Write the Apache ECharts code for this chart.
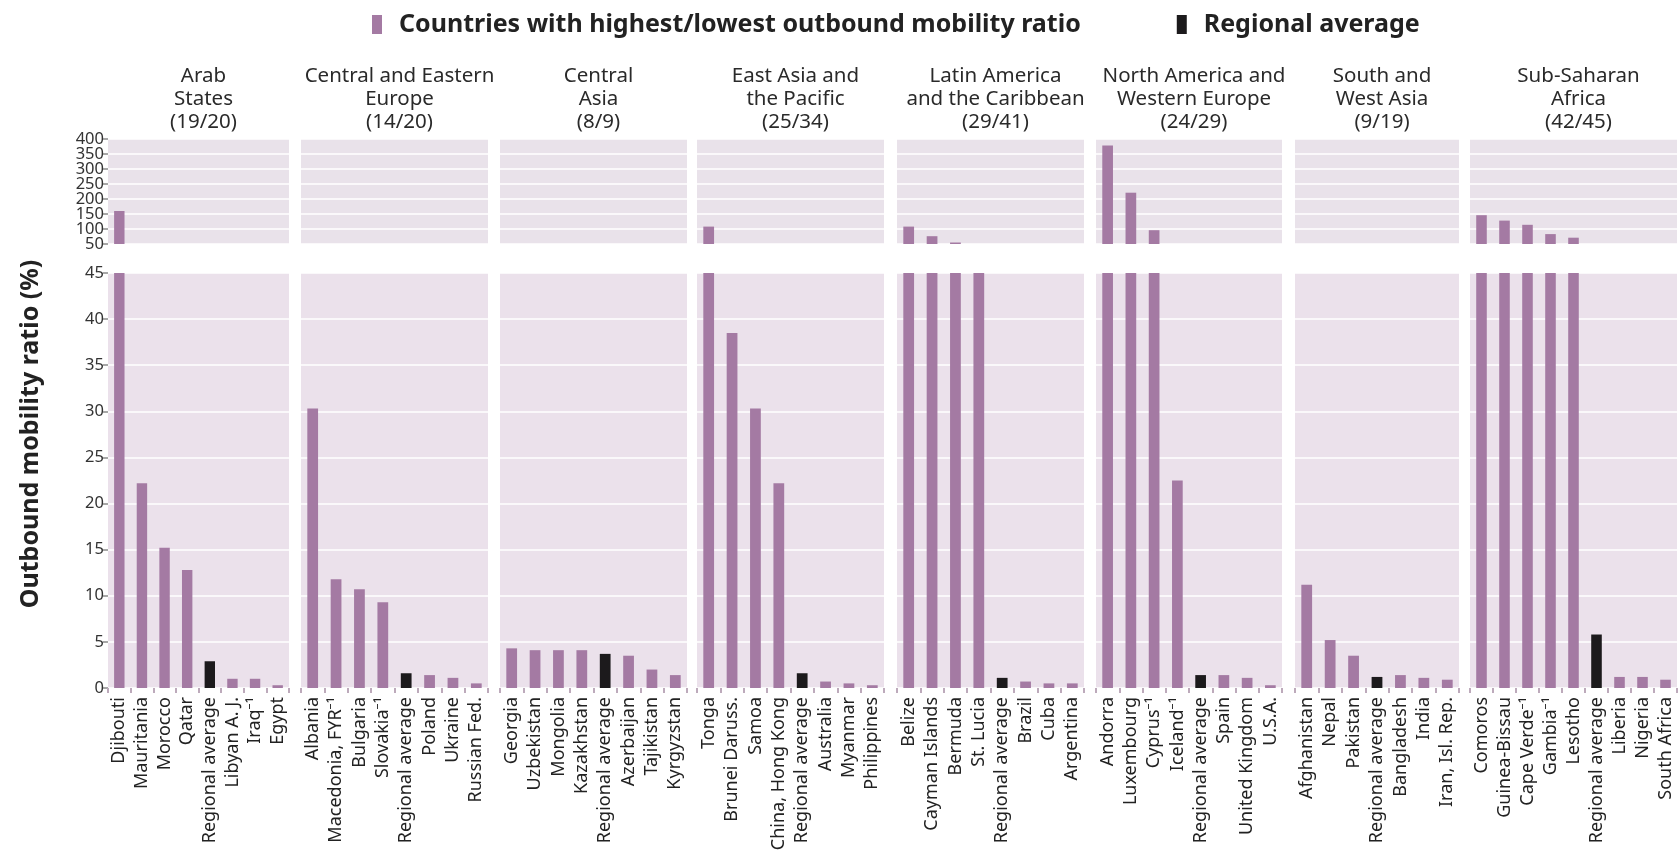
<!DOCTYPE html>
<html>
<head>
<meta charset="utf-8">
<script src="https://cdn.jsdelivr.net/npm/echarts@6/dist/echarts.min.js"></script>
<style>
  html, body { margin: 0; padding: 0; background: #ffffff; }
  #chart { width: 1678px; height: 850px; }
</style>
</head>
<body>
<div id="chart"></div>
<script>
// ---- Data: outbound mobility ratio (%) by region ----
const AVG = 'Regional average';

const arabStatesNames  = ['Djibouti', 'Mauritania', 'Morocco', 'Qatar', AVG, 'Libyan A. J.', 'Iraq⁻¹', 'Egypt'];
const arabStatesValues = [160, 22.2, 15.2, 12.8, 2.9, 1.0, 1.0, 0.3];

const ceeNames  = ['Albania', 'Macedonia, FYR⁻¹', 'Bulgaria', 'Slovakia⁻¹', AVG, 'Poland', 'Ukraine', 'Russian Fed.'];
const ceeValues = [30.3, 11.8, 10.7, 9.3, 1.6, 1.4, 1.1, 0.5];

const centralAsiaNames  = ['Georgia', 'Uzbekistan', 'Mongolia', 'Kazakhstan', AVG, 'Azerbaijan', 'Tajikistan', 'Kyrgyzstan'];
const centralAsiaValues = [4.3, 4.1, 4.1, 4.1, 3.7, 3.5, 2.0, 1.4];

const eastAsiaNames  = ['Tonga', 'Brunei Daruss.', 'Samoa', 'China, Hong Kong', AVG, 'Australia', 'Myanmar', 'Philippines'];
const eastAsiaValues = [108, 38.5, 30.3, 22.2, 1.6, 0.7, 0.5, 0.3];

const latinAmericaNames  = ['Belize', 'Cayman Islands', 'Bermuda', 'St. Lucia', AVG, 'Brazil', 'Cuba', 'Argentina'];
const latinAmericaValues = [108, 76, 55, 47, 1.1, 0.7, 0.5, 0.5];

const naweNames  = ['Andorra', 'Luxembourg', 'Cyprus⁻¹', 'Iceland⁻¹', AVG, 'Spain', 'United Kingdom', 'U.S.A.'];
const naweValues = [378, 221, 96, 22.5, 1.4, 1.4, 1.1, 0.3];

const southWestAsiaNames  = ['Afghanistan', 'Nepal', 'Pakistan', AVG, 'Bangladesh', 'India', 'Iran, Isl. Rep.'];
const southWestAsiaValues = [11.2, 5.2, 3.5, 1.2, 1.4, 1.1, 0.9];

const subSaharanNames  = ['Comoros', 'Guinea-Bissau', 'Cape Verde⁻¹', 'Gambia⁻¹', 'Lesotho', AVG, 'Liberia', 'Nigeria', 'South Africa'];
const subSaharanValues = [146, 128, 114, 83, 71, 5.8, 1.2, 1.2, 0.9];

const regionTitles = [
  'Arab\nStates\n(19/20)',
  'Central and Eastern\nEurope\n(14/20)',
  'Central\nAsia\n(8/9)',
  'East Asia and\nthe Pacific\n(25/34)',
  'Latin America\nand the Caribbean\n(29/41)',
  'North America and\nWestern Europe\n(24/29)',
  'South and\nWest Asia\n(9/19)',
  'Sub-Saharan\nAfrica\n(42/45)'
];

// Tick values of the broken value scale: upper part (50–400) and lower part (0–45)
const upperTickValues = [50, 100, 150, 200, 250, 300, 350, 400];
const lowerTickValues = [0, 5, 10, 15, 20, 25, 30, 35, 40, 45];

const SERIES_COUNTRIES = 'Countries with highest/lowest outbound mobility ratio';
const SERIES_AVERAGE = 'Regional average';
const yAxisTitle = 'Outbound mobility ratio (%)';

// ---- Layout ----
const regions = [
  [arabStatesNames, arabStatesValues],
  [ceeNames, ceeValues],
  [centralAsiaNames, centralAsiaValues],
  [eastAsiaNames, eastAsiaValues],
  [latinAmericaNames, latinAmericaValues],
  [naweNames, naweValues],
  [southWestAsiaNames, southWestAsiaValues],
  [subSaharanNames, subSaharanValues]
];
const panelLeft  = [108, 301, 500, 697, 897, 1096, 1295, 1470];
const panelRight = [289, 488, 687, 884, 1084, 1282, 1459, 1677];
const UPPER = { top: 139, height: 105, ticks: upperTickValues };
const LOWER = { top: 273, height: 415, ticks: lowerTickValues };

const FONT = '"Noto Sans", "DejaVu Sans", sans-serif';
const PURPLE = '#a47aa3';
const BLACK = '#1c1a1c';
const BG_UPPER = '#e9e2ea';
const BG_LOWER = '#ebe1eb';

const TICK_LABEL = { margin: 4, fontFamily: FONT, fontSize: 16.5, color: '#333' };
const TICK_LINE = { length: 5, lineStyle: { color: '#8a8a8a', width: 1.5 } };

const grid = [], xAxis = [], yAxis = [], series = [], title = [];

regions.forEach(([names, values], p) => {
  const left = panelLeft[p], width = panelRight[p] - panelLeft[p];
  title.push({
    text: regionTitles[p],
    left: left + width / 2,
    top: 60,
    textAlign: 'center',
    textStyle: { fontFamily: FONT, fontSize: 20.5, fontWeight: 'normal', color: '#2a2a2a', lineHeight: 23 }
  });

  [UPPER, LOWER].forEach((box, k) => {
    const isLower = k === 1;
    const ticks = box.ticks;
    const tMin = ticks[0], tMax = ticks[ticks.length - 1], tStep = ticks[1] - ticks[0];
    const gi = grid.length;
    grid.push({
      left: left, width: width, top: box.top, height: box.height,
      show: true, backgroundColor: isLower ? BG_LOWER : BG_UPPER, borderWidth: 0,
      containLabel: false, outerBoundsMode: 'none'
    });
    xAxis.push({
      type: 'category', gridIndex: gi, data: names,
      axisLine: { show: false },
      axisTick: { show: isLower, length: 5, lineStyle: { color: '#bdaabb', width: 2 } },
      axisLabel: {
        show: isLower, interval: 0, rotate: 90, margin: 9,
        fontFamily: FONT, fontSize: 18, color: '#222'
      }
    });

    // Main value axis: carries the bars and the white grid lines.
    const yi = yAxis.length;
    const labelsOnMain = p === 0 && isLower;
    yAxis.push({
      type: 'value', gridIndex: gi, position: 'left',
      min: tMin, max: tMax, interval: tStep,
      axisLine: { show: false },
      axisTick: Object.assign({ show: labelsOnMain }, TICK_LINE),
      axisLabel: Object.assign({ show: labelsOnMain, showMinLabel: true, showMaxLabel: true }, TICK_LABEL),
      splitLine: { show: true, lineStyle: { color: '#ffffff', width: 1.6 } }
    });

    // The upper scale is tightly packed: its labels are split over two
    // label-only axes so that neighbouring labels are never dropped.
    if (p === 0 && !isLower) {
      [0, 1].forEach(parity => {
        const vals = ticks.filter((_, i) => i % 2 === parity);
        yAxis.push({
          type: 'value', gridIndex: gi, position: 'left', offset: 0,
          min: tMin, max: tMax, interval: tStep,
          axisLine: { show: false },
          splitLine: { show: false },
          axisTick: Object.assign({ show: true, customValues: vals }, TICK_LINE),
          axisLabel: Object.assign({ show: true, customValues: vals, showMinLabel: true, showMaxLabel: true }, TICK_LABEL)
        });
      });
    }

    const countryData = values.map((v, i) => names[i] === AVG ? null : v);
    const avgData = values.map((v, i) => names[i] === AVG ? v : null);
    series.push({
      name: SERIES_COUNTRIES, type: 'bar', xAxisIndex: gi, yAxisIndex: yi,
      data: countryData, barWidth: '46%', barGap: '-100%', clip: true,
      itemStyle: { color: PURPLE }, silent: true
    });
    series.push({
      name: SERIES_AVERAGE, type: 'bar', xAxisIndex: gi, yAxisIndex: yi,
      data: avgData, barWidth: '46%', barGap: '-100%', clip: true,
      itemStyle: { color: BLACK }, silent: true
    });
  });
});

const chart = echarts.init(document.getElementById('chart'), null, { renderer: 'canvas' });
chart.setOption({
  animation: false,
  backgroundColor: '#ffffff',
  title: title,
  legend: {
    top: 7, left: 367,
    icon: 'rect', itemWidth: 10, itemHeight: 19, itemGap: 96,
    selectedMode: false,
    textStyle: { fontFamily: FONT, fontSize: 25, fontWeight: 'bold', color: '#222', padding: [0, 0, 0, 12] },
    data: [
      { name: SERIES_COUNTRIES, itemStyle: { color: PURPLE } },
      { name: SERIES_AVERAGE, itemStyle: { color: BLACK } }
    ]
  },
  graphic: [{
    type: 'text',
    x: 31, y: 434,
    rotation: Math.PI / 2,
    style: {
      text: yAxisTitle,
      fontFamily: FONT, fontSize: 25, fontWeight: 'bold', fill: '#222',
      align: 'center', verticalAlign: 'middle'
    }
  }],
  grid: grid,
  xAxis: xAxis,
  yAxis: yAxis,
  series: series
});
</script>
</body>
</html>
